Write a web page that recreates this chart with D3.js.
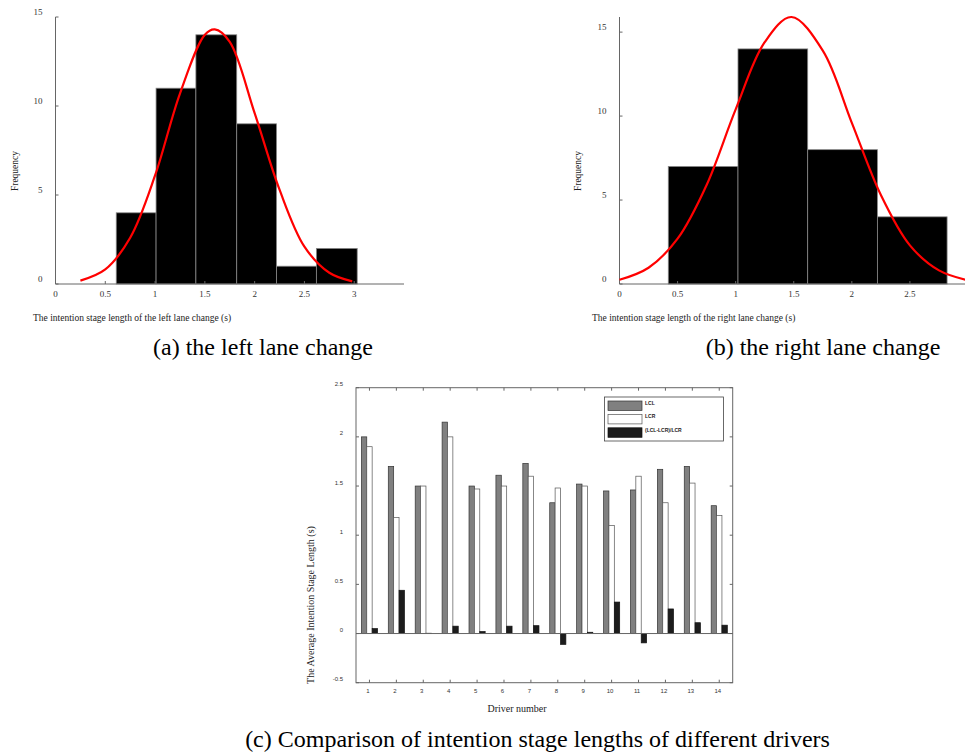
<!DOCTYPE html>
<html>
<head>
<meta charset="utf-8">
<script src="https://cdn.jsdelivr.net/npm/d3@7"></script>
<style>
  body { margin: 0; background: #fff; }
  svg { display: block; }
  .serif { font-family: "Liberation Serif", "Times New Roman", serif; }
  .sans { font-family: "Liberation Sans", Arial, sans-serif; }
</style>
</head>
<body>
<svg id="chart" width="965" height="754"></svg>
<script>
// histogram bin edges and counts, left lane change
const leftEdges = [0.61, 1.01, 1.41, 1.82, 2.22, 2.62, 3.03];
const leftCounts = [4, 11, 14, 9, 1, 2];
// fitted normal curve (x, frequency)
const leftCurve = [[0.25, 0.19], [0.5, 0.82], [0.75, 2.6], [1.0, 6.1], [1.25, 10.7], [1.5, 14.0],
  [1.6, 14.3], [1.75, 13.6], [2.0, 9.6], [2.25, 5.3], [2.5, 2.1], [2.75, 0.63], [2.98, 0.15]];
const leftXTicks = [0, 0.5, 1, 1.5, 2, 2.5, 3];
const leftYTicks = [0, 5, 10, 15];

// right lane change
const rightEdges = [0.42, 1.02, 1.62, 2.22, 2.82];
const rightCounts = [7, 14, 8, 4];
const rightCurve = [[0, 0.25], [0.25, 0.97], [0.5, 2.7], [0.75, 5.9], [1.0, 10.4], [1.25, 14.4],
  [1.48, 15.9], [1.75, 13.9], [2.0, 9.6], [2.25, 5.3], [2.5, 2.3], [2.75, 0.81], [3.0, 0.22]];
const rightXTicks = [0, 0.5, 1, 1.5, 2, 2.5];
const rightYTicks = [0, 5, 10, 15];

// per-driver averages
const drivers = [1, 2, 3, 4, 5, 6, 7, 8, 9, 10, 11, 12, 13, 14];
const lcl = [2.0, 1.7, 1.5, 2.15, 1.5, 1.61, 1.73, 1.33, 1.52, 1.45, 1.46, 1.67, 1.7, 1.3];
const lcr = [1.9, 1.18, 1.5, 2.0, 1.47, 1.5, 1.6, 1.48, 1.5, 1.1, 1.6, 1.33, 1.53, 1.2];
const ratio = [0.05, 0.44, 0.003, 0.075, 0.02, 0.075, 0.08, -0.11, 0.013, 0.32, -0.095, 0.25, 0.11, 0.085];
const seriesNames = ["LCL", "LCR", "(LCL-LCR)/LCR"];
const cYTicks = [-0.5, 0, 0.5, 1, 1.5, 2, 2.5];

const svg = d3.select("#chart");
const axisColor = "#666";

function histogram(cfg) {
  const g = svg.append("g");
  const x = d3.scaleLinear().domain(cfg.xDomain).range(cfg.xRange);
  const y = d3.scaleLinear().domain(cfg.yDomain).range(cfg.yRange);
  const bins = cfg.counts.map((c, i) => ({ x0: cfg.edges[i], x1: cfg.edges[i + 1], n: c }));

  g.selectAll("rect.bin")
    .data(bins)
    .enter().append("rect")
      .attr("class", "bin")
      .attr("x", d => x(d.x0))
      .attr("y", d => y(d.n))
      .attr("width", d => x(d.x1) - x(d.x0))
      .attr("height", d => y(0) - y(d.n))
      .attr("fill", "#000")
      .attr("stroke", "#888")
      .attr("stroke-width", 0.8);

  // axes: plain lines with small inward ticks
  g.append("line")
    .attr("x1", x(cfg.xDomain[0])).attr("x2", x(cfg.xDomain[1]))
    .attr("y1", y(0)).attr("y2", y(0))
    .attr("stroke", axisColor);
  g.append("line")
    .attr("x1", x(cfg.xDomain[0])).attr("x2", x(cfg.xDomain[0]))
    .attr("y1", y(0)).attr("y2", y(cfg.yDomain[1]))
    .attr("stroke", axisColor);

  g.selectAll("line.xt").data(cfg.xTicks).enter().append("line")
    .attr("x1", d => x(d)).attr("x2", d => x(d))
    .attr("y1", y(0)).attr("y2", y(0) - 3)
    .attr("stroke", axisColor);
  g.selectAll("line.yt").data(cfg.yTicks).enter().append("line")
    .attr("x1", x(0)).attr("x2", x(0) + 3)
    .attr("y1", d => y(d)).attr("y2", d => y(d))
    .attr("stroke", axisColor);

  g.selectAll("text.xl").data(cfg.xTicks).enter().append("text")
    .attr("class", "serif")
    .attr("x", d => x(d)).attr("y", y(0) + 13)
    .attr("text-anchor", "middle")
    .attr("font-size", 9).attr("fill", "#333")
    .text(d => d);
  g.selectAll("text.yl").data(cfg.yTicks).enter().append("text")
    .attr("class", "serif")
    .attr("x", x(0) - 13).attr("y", d => y(d) - 2)
    .attr("text-anchor", "end")
    .attr("font-size", 9).attr("fill", "#333")
    .text(d => d);

  const line = d3.line()
    .x(d => x(d[0]))
    .y(d => y(d[1]))
    .curve(d3.curveCatmullRom);
  g.append("path")
    .datum(cfg.curve)
    .attr("d", line)
    .attr("fill", "none")
    .attr("stroke", "#f00")
    .attr("stroke-width", 2.2);

  g.append("text")
    .attr("class", "serif")
    .attr("transform", `translate(${cfg.yTitleX},171) rotate(-90)`)
    .attr("text-anchor", "middle")
    .attr("font-size", 9.5).attr("fill", "#222")
    .text("Frequency");
  g.append("text")
    .attr("class", "serif")
    .attr("x", cfg.xTitleX).attr("y", 321)
    .attr("font-size", 9.5).attr("fill", "#222")
    .text(cfg.xTitle);
}

histogram({
  edges: leftEdges, counts: leftCounts, curve: leftCurve,
  xDomain: [0, 3.5], xRange: [55.5, 404],
  yDomain: [0, 15], yRange: [284, 17],
  xTicks: leftXTicks, yTicks: leftYTicks,
  yTitleX: 18, xTitleX: 33,
  xTitle: "The intention stage length of the left lane change (s)"
});

histogram({
  edges: rightEdges, counts: rightCounts, curve: rightCurve,
  xDomain: [0, 3], xRange: [619.5, 968],
  yDomain: [0, 15.9], yRange: [284, 17],
  xTicks: rightXTicks, yTicks: rightYTicks,
  yTitleX: 581, xTitleX: 592,
  xTitle: "The intention stage length of the right lane change (s)"
});

// captions
svg.append("text").attr("class", "serif")
  .attr("x", 263).attr("y", 355).attr("text-anchor", "middle")
  .attr("font-size", 24).text("(a) the left lane change");
svg.append("text").attr("class", "serif")
  .attr("x", 823).attr("y", 355).attr("text-anchor", "middle")
  .attr("font-size", 24).text("(b) the right lane change");
svg.append("text").attr("class", "serif")
  .attr("x", 537.5).attr("y", 747).attr("text-anchor", "middle")
  .attr("font-size", 24).text("(c) Comparison of intention stage lengths of different drivers");

// grouped bar chart (c)
const gc = svg.append("g");
const xc = d3.scaleLinear().domain([0.5, 14.5]).range([356, 732.7]);
const yc = d3.scaleLinear().domain([-0.5, 2.5]).range([682.7, 387.7]);
const rows = drivers.map((d, i) => ({ driver: d, values: [lcl[i], lcr[i], ratio[i]] }));
const fills = ["#808080", "#fff", "#1c1c1c"];
const strokes = ["#333", "#555", "#111"];
const barW = 0.2;

rows.forEach(r => {
  gc.selectAll(null)
    .data(r.values.map((v, k) => ({ v, k })))
    .enter().append("rect")
      .attr("x", d => xc(r.driver - 0.3 + d.k * barW))
      .attr("y", d => yc(Math.max(0, d.v)))
      .attr("width", xc(barW) - xc(0))
      .attr("height", d => Math.abs(yc(d.v) - yc(0)))
      .attr("fill", d => fills[d.k])
      .attr("stroke", d => strokes[d.k])
      .attr("stroke-width", 0.7);
});

// frame, zero line, inward ticks
gc.append("rect")
  .attr("x", xc(0.5)).attr("y", yc(2.5))
  .attr("width", xc(14.5) - xc(0.5)).attr("height", yc(-0.5) - yc(2.5))
  .attr("fill", "none").attr("stroke", axisColor);
gc.append("line")
  .attr("x1", xc(0.5)).attr("x2", xc(14.5))
  .attr("y1", yc(0)).attr("y2", yc(0))
  .attr("stroke", axisColor);
gc.selectAll("line.xtb").data(drivers).enter().append("line")
  .attr("x1", d => xc(d)).attr("x2", d => xc(d))
  .attr("y1", yc(-0.5)).attr("y2", yc(-0.5) - 3).attr("stroke", axisColor);
gc.selectAll("line.xtt").data(drivers).enter().append("line")
  .attr("x1", d => xc(d)).attr("x2", d => xc(d))
  .attr("y1", yc(2.5)).attr("y2", yc(2.5) + 3).attr("stroke", axisColor);
gc.selectAll("line.ytl").data(cYTicks).enter().append("line")
  .attr("x1", xc(0.5)).attr("x2", xc(0.5) + 3)
  .attr("y1", d => yc(d)).attr("y2", d => yc(d)).attr("stroke", axisColor);
gc.selectAll("line.ytr").data(cYTicks).enter().append("line")
  .attr("x1", xc(14.5)).attr("x2", xc(14.5) - 3)
  .attr("y1", d => yc(d)).attr("y2", d => yc(d)).attr("stroke", axisColor);

gc.selectAll("text.xl").data(drivers).enter().append("text")
  .attr("class", "sans")
  .attr("x", d => xc(d) - 1.5).attr("y", yc(-0.5) + 10)
  .attr("text-anchor", "middle").attr("font-size", 6).attr("fill", "#333")
  .text(d => d);
gc.selectAll("text.yl").data(cYTicks).enter().append("text")
  .attr("class", "sans")
  .attr("x", xc(0.5) - 13).attr("y", d => yc(d) - 1.5)
  .attr("text-anchor", "end").attr("font-size", 6).attr("fill", "#333")
  .text(d => d);

gc.append("text").attr("class", "serif")
  .attr("x", 517).attr("y", 712).attr("text-anchor", "middle")
  .attr("font-size", 10).attr("fill", "#222")
  .text("Driver number");
gc.append("text").attr("class", "serif")
  .attr("transform", "translate(314,605) rotate(-90)")
  .attr("text-anchor", "middle")
  .attr("font-size", 10).attr("fill", "#222")
  .text("The Average Intention Stage Length (s)");

// legend
const lg = gc.append("g");
lg.append("rect")
  .attr("x", 604.5).attr("y", 397).attr("width", 119).attr("height", 44)
  .attr("fill", "#fff").attr("stroke", "#444").attr("stroke-width", 0.8);
seriesNames.forEach((name, k) => {
  lg.append("rect")
    .attr("x", 608).attr("y", 401 + k * 13.4).attr("width", 34).attr("height", 9.5)
    .attr("fill", fills[k]).attr("stroke", strokes[k]).attr("stroke-width", 0.7);
  lg.append("text").attr("class", "sans")
    .attr("x", 645).attr("y", 405 + k * 13.4)
    .attr("font-size", 5).attr("font-weight", "bold").attr("fill", "#222")
    .text(name);
});
</script>
</body>
</html>
